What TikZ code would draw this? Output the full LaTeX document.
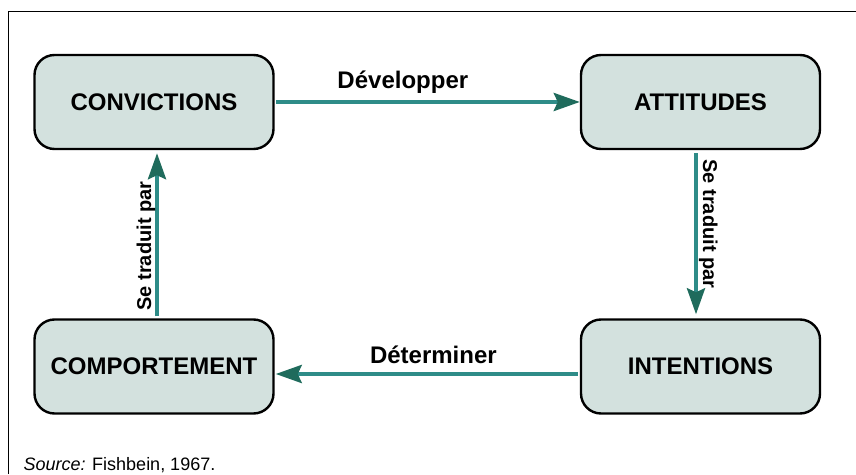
\documentclass[tikz,border=0pt]{standalone}
\usepackage{fontspec}
\setmainfont{Liberation Sans}
\usepackage{tikz}
\usetikzlibrary{arrows.meta}
\definecolor{boxfill}{HTML}{D3E1DE}
\definecolor{linkline}{HTML}{2E8C88}
\definecolor{linkhead}{HTML}{1F6B5C}

\begin{document}
\begin{tikzpicture}[x=1pt,y=1pt,
  box/.style={draw,line width=2.4pt,fill=boxfill,rounded corners=20pt,
    minimum width=239pt,minimum height=94pt,
    font=\fontsize{24}{28}\selectfont\bfseries},
  link/.style={draw=linkline,line width=4pt,
    -{Stealth[length=26pt,width=18pt,inset=4pt,color=linkhead]}},
  lab/.style={font=\fontsize{24}{28}\selectfont\bfseries},
  vlab/.style={font=\fontsize{20}{24}\selectfont\bfseries,anchor=base}]
  \useasboundingbox (0,0) rectangle (856,474);
  \draw[line width=0.9pt] (8.5,0) -- (8.5,462.5) -- (856,462.5);
  \node[box] (B-1) at (154,372) {CONVICTIONS};
  \node[box] (B-2) at (700.5,372) {ATTITUDES};
  \node[box] (B-3) at (700.5,107.5) {INTENTIONS};
  \node[box] (B-4) at (154,107.5) {COMPORTEMENT};
  \draw[link,shorten <=1.5pt] (B-1) -- (B-2)
    node[lab,pos=0.42,anchor=base,yshift=13pt] (L-1) {Développer};
  \draw[link,shorten <=3pt,shorten >=4pt] ([xshift=-4.5pt]B-2.south) -- ([xshift=-4.5pt]B-3.north);
  \draw[link,shorten <=2pt,shorten >=1pt] ([yshift=-7.5pt]B-3.west) -- ([yshift=-7.5pt]B-4.east)
    node[lab,pos=0.48,anchor=base,yshift=10.5pt] (L-3) {Déterminer};
  \draw[link,shorten <=2pt,shorten >=3pt] ([xshift=3pt]B-4.north) -- ([xshift=3pt]B-1.south);
  \node[vlab,rotate=-90] (L-2) at (703,250) {Se traduit par};
  \node[vlab,rotate=90] (L-4) at (151,228) {Se traduit par};
  \node[anchor=base west,font=\fontsize{18}{20}\selectfont] (S-1) at (20,4)
    {\textit{Source:} Fishbein, 1967.};
\end{tikzpicture}
\end{document}
